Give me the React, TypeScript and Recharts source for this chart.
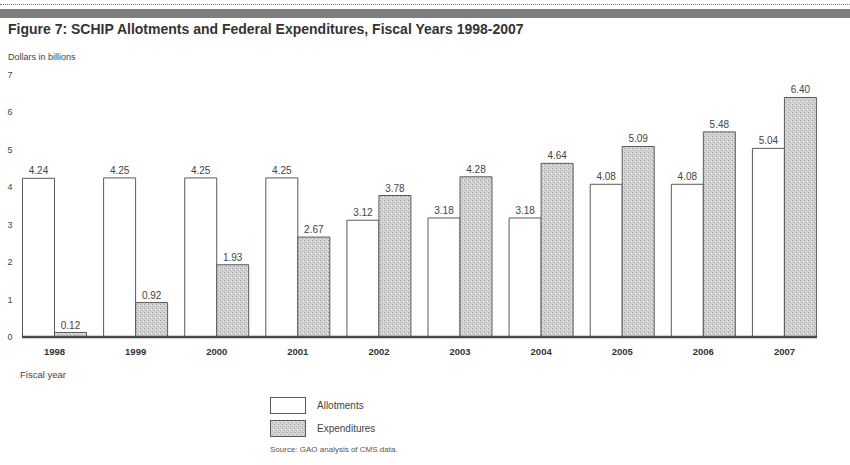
import { Bar, BarChart, LabelList, ReferenceLine, XAxis, YAxis } from 'recharts'

const YEARS = ['1998', '1999', '2000', '2001', '2002', '2003', '2004', '2005', '2006', '2007']
const ALLOTMENTS = [4.24, 4.25, 4.25, 4.25, 3.12, 3.18, 3.18, 4.08, 4.08, 5.04]
const EXPENDITURES = [0.12, 0.92, 1.93, 2.67, 3.78, 4.28, 4.64, 5.09, 5.48, 6.4]
const Y_TICKS = [0, 1, 2, 3, 4, 5, 6, 7]

const FONT = '"Liberation Sans", Arial, sans-serif'
const EDGE = '#5a5a5a'
const STIPPLE = 'url(#stipple)'

const data = YEARS.map((year, i) => ({
  year,
  allotments: ALLOTMENTS[i],
  expenditures: EXPENDITURES[i],
}))

const fmt = (v: number) => v.toFixed(2)

function YTick({ y, payload }: any) {
  return (
    <text x={10} y={y} dy={3} textAnchor="middle" fontSize={9} fill="#444" fontFamily={FONT}>
      {payload.value}
    </text>
  )
}

function Baseline({ x1, x2, y1 }: any) {
  // rule runs only under the bars, not across the full plot width
  return <line x1={x1 + 8} x2={x2 - 8} y1={y1} y2={y1} stroke="#4a4a4a" strokeWidth={2.5} />
}

function StippleDefs() {
  return (
    <pattern id="stipple" width={4} height={4} patternUnits="userSpaceOnUse">
      <rect width={4} height={4} fill="#d2d2d2" />
      <rect x={0} y={0} width={1} height={1} fill="#9a9a9a" />
      <rect x={2} y={2} width={1} height={1} fill="#a8a8a8" />
      <rect x={3} y={1} width={1} height={1} fill="#ececec" />
    </pattern>
  )
}

function LegendBlock() {
  return (
    <div style={{ position: 'absolute', left: 270, top: 397, fontFamily: FONT, fontSize: 10, color: '#444' }}>
      <div style={{ display: 'flex', alignItems: 'center', marginBottom: 6 }}>
        <div style={{ width: 36, height: 17, border: `1px solid ${EDGE}`, boxSizing: 'border-box', background: '#fff' }} />
        <span style={{ marginLeft: 11 }}>Allotments</span>
      </div>
      <div style={{ display: 'flex', alignItems: 'center' }}>
        <svg width={36} height={17} style={{ display: 'block' }}>
          <defs>
            <StippleDefs />
          </defs>
          <rect x={0.5} y={0.5} width={35} height={16} fill={STIPPLE} stroke={EDGE} />
        </svg>
        <span style={{ marginLeft: 11 }}>Expenditures</span>
      </div>
      <div style={{ fontSize: 8, marginTop: 8, color: '#555' }}>Source: GAO analysis of CMS data.</div>
    </div>
  )
}

export default function App() {
  return (
    <div style={{ position: 'absolute', left: 0, top: 0, width: 850, height: 465, background: '#fff', fontFamily: FONT }}>
      <div style={{ position: 'absolute', left: 0, top: 4, width: 850, borderTop: '1px dotted #777' }} />
      <div style={{ position: 'absolute', left: 0, top: 9, width: 850, height: 9, background: '#7e7e7e' }} />
      <div style={{ position: 'absolute', left: 8, top: 21, fontSize: 14, fontWeight: 'bold', color: '#333' }}>
        Figure 7: SCHIP Allotments and Federal Expenditures, Fiscal Years 1998-2007
      </div>
      <div style={{ position: 'absolute', left: 8, top: 52, fontSize: 9, color: '#444' }}>Dollars in billions</div>
      <div style={{ position: 'absolute', left: 20, top: 369, fontSize: 9.5, color: '#444' }}>Fiscal year</div>

      <BarChart
        width={850}
        height={465}
        data={data}
        margin={{ top: 75, right: 25, bottom: 98, left: 0 }}
        barCategoryGap="10.5%"
        barGap={0}
        style={{ position: 'absolute', left: 0, top: 0 }}
      >
        <defs>
          <StippleDefs />
        </defs>
        <YAxis
          width={14}
          domain={[0, 7]}
          ticks={Y_TICKS}
          axisLine={false}
          tickLine={false}
          tick={<YTick />}
        />
        <XAxis
          dataKey="year"
          axisLine={false}
          tickLine={false}
          tick={{ fontSize: 9.5, fill: '#333', fontWeight: 'bold', fontFamily: FONT }}
          tickMargin={5}
        />
        <Bar dataKey="allotments" fill="#fff" stroke={EDGE} strokeWidth={1} isAnimationActive={false}>
          <LabelList dataKey="allotments" position="top" formatter={fmt} fontSize={10} fill="#444" fontFamily={FONT} offset={4} />
        </Bar>
        <Bar dataKey="expenditures" fill={STIPPLE} stroke={EDGE} strokeWidth={1} isAnimationActive={false}>
          <LabelList dataKey="expenditures" position="top" formatter={fmt} fontSize={10} fill="#444" fontFamily={FONT} offset={4} />
        </Bar>
        <ReferenceLine y={0} shape={<Baseline />} />
      </BarChart>
      <LegendBlock />
    </div>
  )
}
